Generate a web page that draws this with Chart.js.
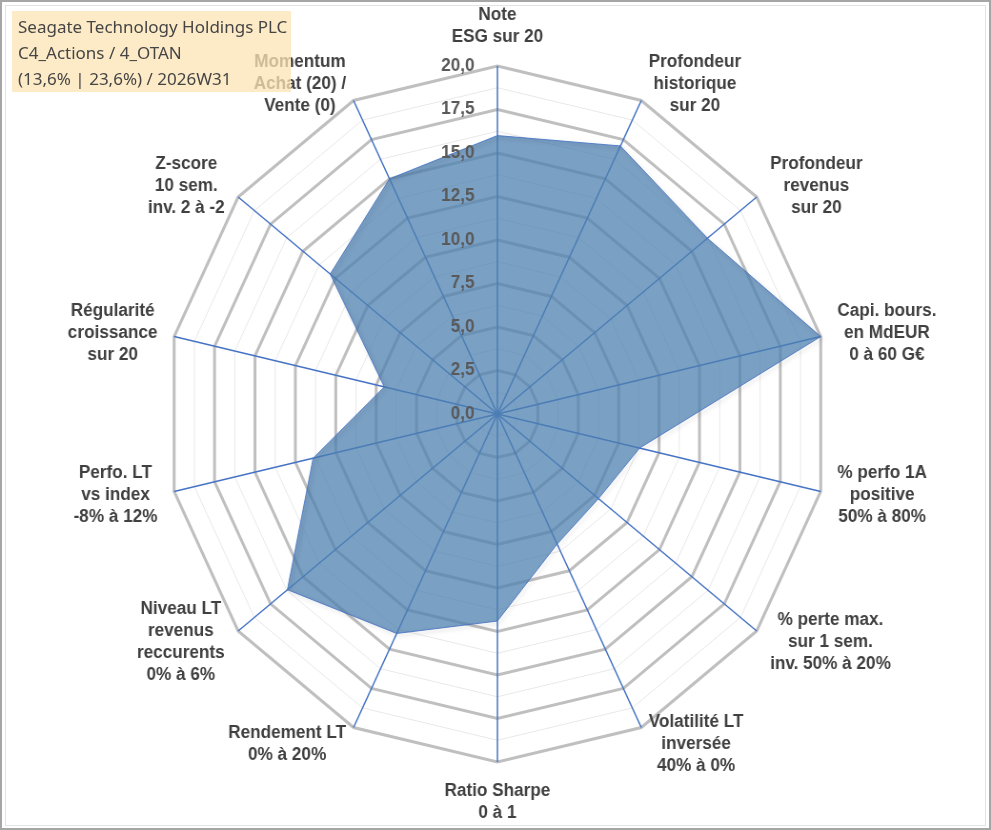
<!DOCTYPE html>
<html lang="fr">
<head>
<meta charset="utf-8">
<title>Seagate Technology Holdings PLC - radar</title>
<script src="https://cdn.jsdelivr.net/npm/chart.js@4.4.1/dist/chart.umd.min.js"></script>
<style>
	html, body { margin: 0; padding: 0; background: #fff; }
	#wrap { position: relative; width: 991px; height: 830px; overflow: hidden; }
	#radar { position: absolute; left: 0; top: 0; }
	.edge { position: absolute; inset: 0; border: 2px solid #a6a6a6; box-sizing: border-box; pointer-events: none; }
	.inner { position: absolute; left: 5px; top: 5px; right: 5px; bottom: 4px; border: 1px solid #e3e3e3; pointer-events: none; }
	#badge {
		position: absolute; left: 12px; top: 11px; width: 267px; height: 78px;
		padding: 3px 6px 0 6px; box-sizing: content-box;
		background: rgba(252, 228, 180, 0.75);
		font: 17px "Noto Sans", "Open Sans", sans-serif; line-height: 26px; color: #454545;
		white-space: nowrap;
	}
</style>
</head>
<body>
<div id="wrap">
	<!-- drawn 1040 wide and shown 991 wide, like the slightly squeezed original -->
	<canvas id="radar" width="1040" height="830" style="width: 991px; height: 830px;"></canvas>
	<div class="edge"></div>
	<div class="inner"></div>
	<div id="badge">
		<div>Seagate Technology Holdings PLC</div>
		<div>C4_Actions / 4_OTAN</div>
		<div>(13,6% | 23,6%) / 2026W31</div>
	</div>
</div>
<script>
// Axes, clockwise from the top
const axisLabels = [
	['Note', 'ESG sur 20'],
	['Profondeur', 'historique', 'sur 20'],
	['Profondeur', 'revenus', 'sur 20'],
	['Capi. bours.', 'en MdEUR', '0 à 60 G€'],
	['% perfo 1A', 'positive', '50% à 80%'],
	['% perte max.', 'sur 1 sem.', 'inv. 50% à 20%'],
	['Volatilité LT', 'inversée', '40% à 0%'],
	['Ratio Sharpe', '0 à 1'],
	['Rendement LT', '0% à 20%'],
	['Niveau LT', 'revenus', 'reccurents', '0% à 6%'],
	['Perfo. LT', 'vs index', '-8% à 12%'],
	['Régularité', 'croissance', 'sur 20'],
	['Z-score', '10 sem.', 'inv. 2 à -2'],
	['Momentum', 'Achat (20) /', 'Vente (0)'],
];

// Scores (0 to 20)
const scores = [16.0, 17.1, 16.2, 20.0, 8.8, 7.8, 8.3, 11.9, 14.0, 16.2, 11.4, 7.0, 12.9, 15.0];

// Labelled ticks; grid also has a thin line halfway between them
const tickValues = [0, 2.5, 5, 7.5, 10, 12.5, 15, 17.5, 20];

const LABEL_GAP = 18;
const LINE_H = 22;

function formatTick(v) {
	return v.toFixed(1).replace('.', ',');
}

// Excel-like text: tick values left of the top axis, axis names beside each spoke
const radarText = {
	id: 'radarText',
	// soft shadow on the outline only (filler has already painted the area)
	beforeDatasetDraw(chart) {
		const ctx = chart.ctx;
		ctx.save();
		ctx.shadowColor = 'rgba(0, 0, 0, 0.3)';
		ctx.shadowBlur = 4;
		ctx.shadowOffsetX = 2;
		ctx.shadowOffsetY = 2;
	},
	afterDatasetDraw(chart) {
		chart.ctx.restore();
	},
	afterDatasetsDraw(chart) {
		const ctx = chart.ctx;
		const scale = chart.scales.r;

		ctx.save();
		ctx.font = 'bold 18px "Liberation Sans", Arial, sans-serif';
		ctx.fillStyle = '#595959';
		ctx.textAlign = 'right';
		ctx.textBaseline = 'middle';
		tickValues.forEach((v) => {
			const p = scale.getPointPositionForValue(0, v);
			ctx.fillText(formatTick(v), p.x - 24, p.y);
		});

		ctx.font = 'bold 18px "Liberation Sans", Arial, sans-serif';
		ctx.fillStyle = '#404040';
		ctx.textAlign = 'center';
		chart.data.labels.forEach((lines, i) => {
			const angle = scale.getIndexAngle(i);
			const p = scale.getPointPosition(i, scale.drawingArea + LABEL_GAP);
			const w = Math.max(...lines.map((t) => ctx.measureText(t).width));
			const h = lines.length * LINE_H;
			const sin = Math.sin(angle);
			const cos = Math.cos(angle);
			let cx = p.x;
			let cy = p.y;
			if (Math.abs(sin) < 0.01) {
				cy -= Math.sign(cos) * h / 2;
			} else {
				cx += Math.sign(sin) * w / 2;
			}
			lines.forEach((t, k) => {
				ctx.fillText(t, cx, cy - h / 2 + LINE_H * (k + 0.5));
			});
		});
		ctx.restore();
	},
};

document.addEventListener('DOMContentLoaded', function () {
	const canvas = document.getElementById('radar');

	new Chart(canvas.getContext('2d'), {
		type: 'radar',
		data: {
			labels: axisLabels,
			datasets: [
				{
					label: 'Seagate Technology Holdings PLC',
					data: scores,
					fill: true,
					backgroundColor: 'rgba(78, 128, 176, 0.75)',
					borderColor: 'rgba(68, 114, 196, 0.85)',
					borderWidth: 1,
					pointRadius: 0,
					tension: 0,
				},
			],
		},
		options: {
			responsive: false,
			animation: false,
			layout: {
				padding: { left: 100, right: 96, top: 66, bottom: 68 },
			},
			plugins: {
				legend: { display: false },
				tooltip: { enabled: false },
			},
			scales: {
				r: {
					min: 0,
					max: 20,
					startAngle: 0,
					ticks: { display: false, stepSize: 1.25 },
					pointLabels: { display: false },
					grid: {
						circular: false,
						color: (c) => (c.tick && c.tick.value % 2.5 === 0 ? '#bfbfbf' : '#e8e8e8'),
						lineWidth: (c) => (c.tick && c.tick.value % 2.5 === 0 ? 3 : 1),
					},
					angleLines: { color: '#4472c4', lineWidth: 1.5 },
				},
			},
		},
		plugins: [radarText],
	});
});
</script>
</body>
</html>
